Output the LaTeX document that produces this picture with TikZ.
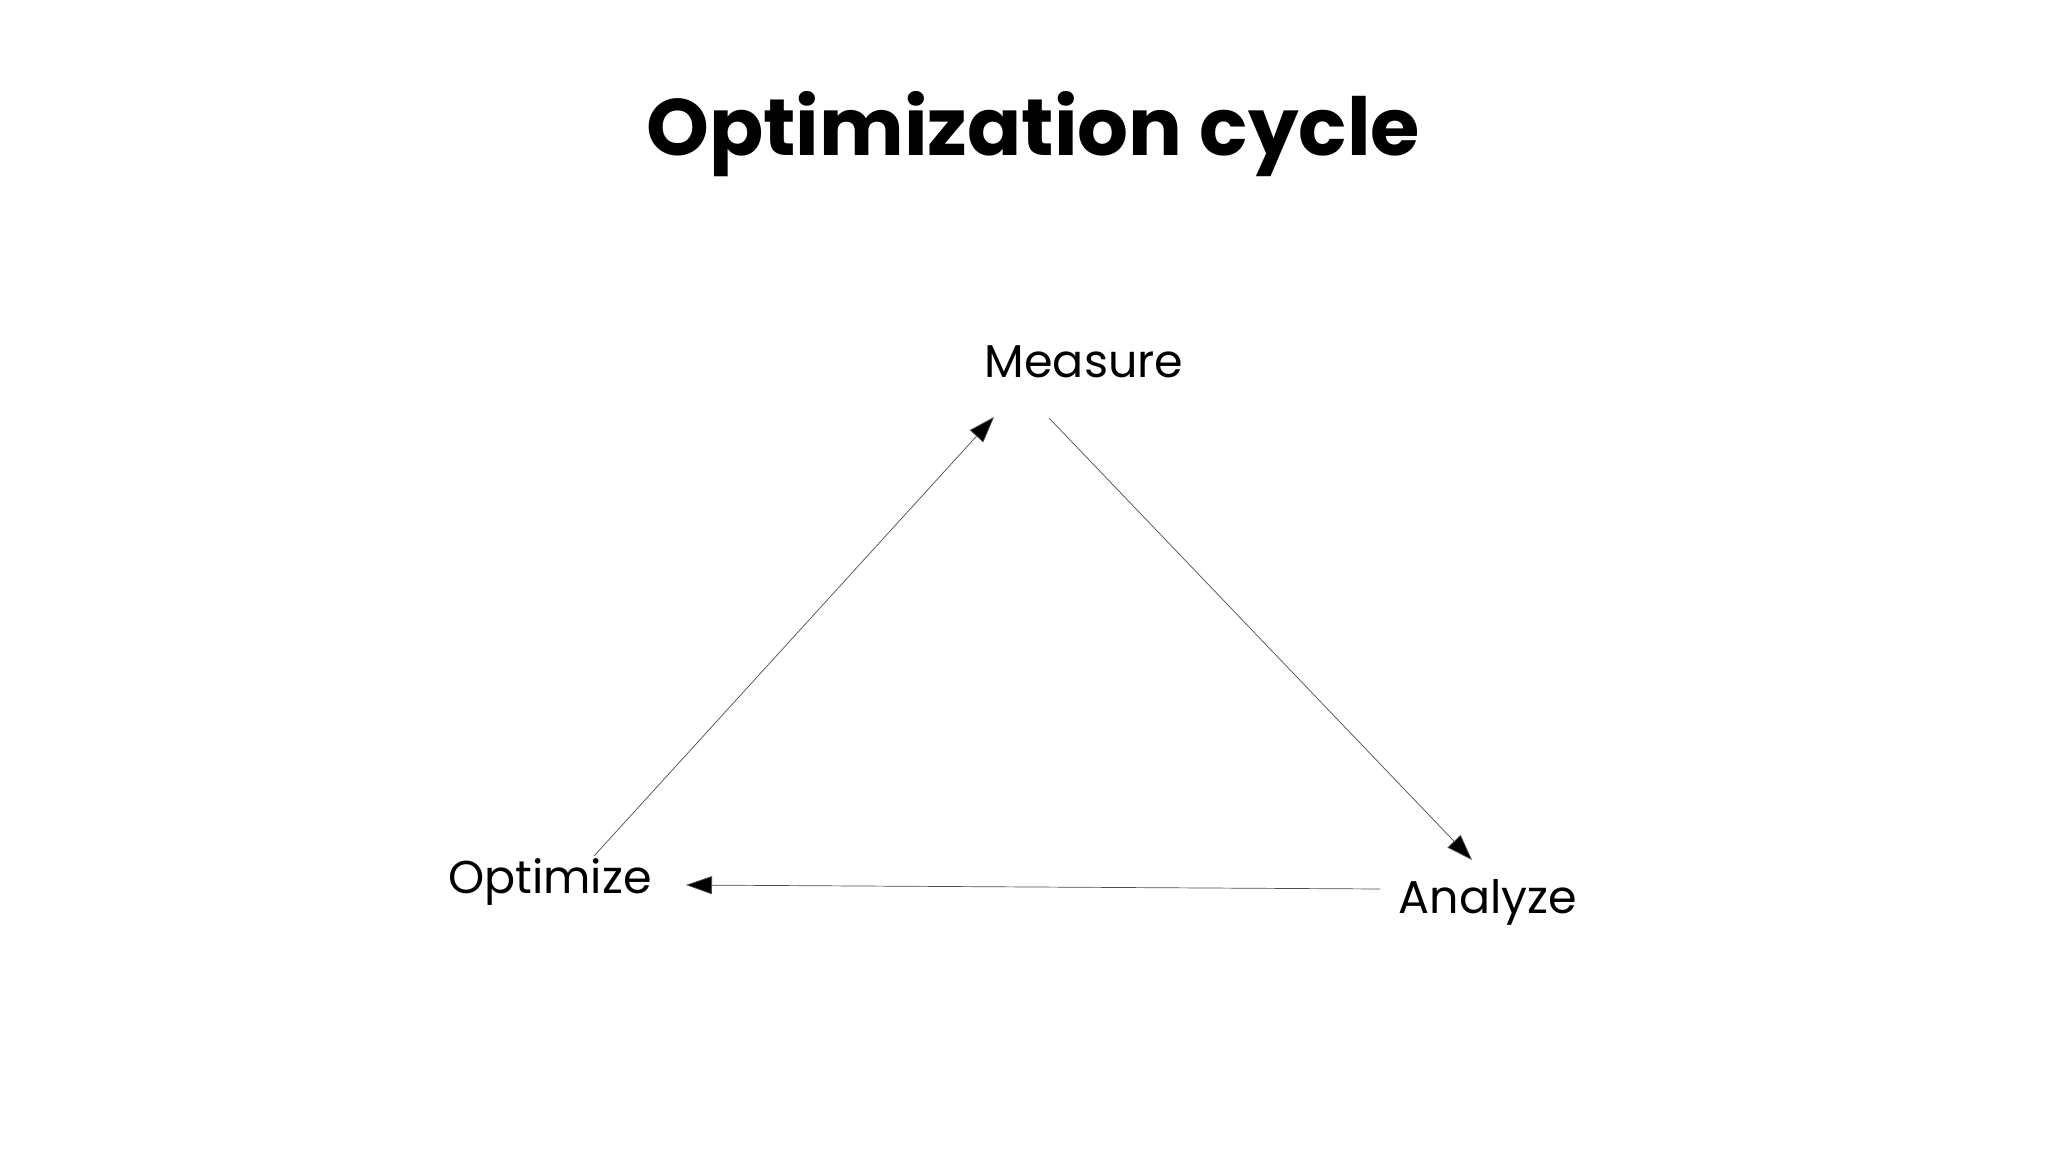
\documentclass[tikz,border=0pt]{standalone}
\usepackage{fontspec}
\setmainfont{Poppins}
\usetikzlibrary{arrows.meta}
\begin{document}
\begin{tikzpicture}[x=1pt,y=-1pt,
  lbl/.style={font=\fontsize{46}{50}\selectfont\addfontfeature{FakeBold=0}},
  conn/.style={draw=black!70,line width=0.7pt,-{Triangle[length=26,width=18,fill=black]}}]
\useasboundingbox (0,0) rectangle (2048,1150);
\node[font=\fontsize{80}{90}\selectfont\bfseries] (title) at (1033,134) {Optimization cycle};
\node[lbl] (m) at (1084,362) {Measure};
\node[lbl] (o) at (550,882) {Optimize};
\node[lbl] (a) at (1488,902) {Analyze};
\coordinate (o1) at (594,856); \coordinate (m1) at (994,417);
\coordinate (m2) at (1049,418); \coordinate (a1) at (1472,860);
\coordinate (a2) at (1380,889); \coordinate (o2) at (686,885);
\draw[conn] (o1) -- (m1);
\draw[conn] (m2) -- (a1);
\draw[conn] (a2) -- (o2);
\end{tikzpicture}
\end{document}
